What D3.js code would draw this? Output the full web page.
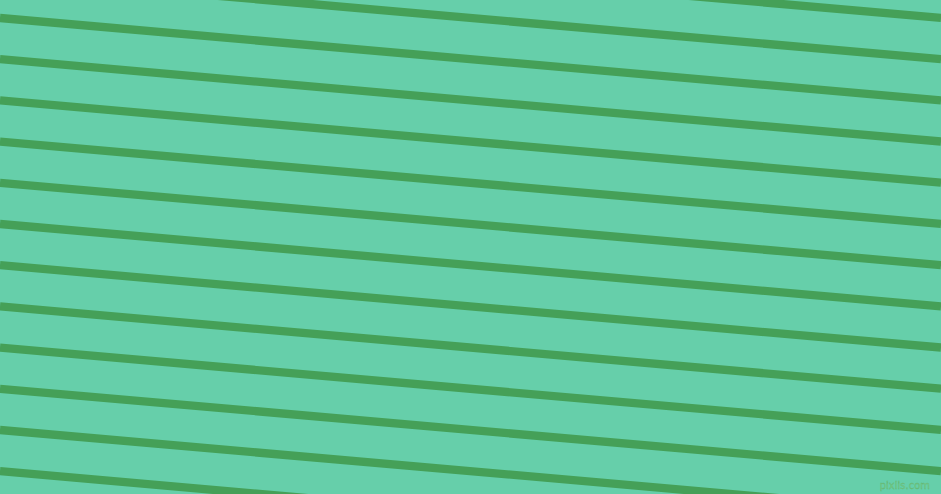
<!DOCTYPE html>
<html>
<head>
<meta charset="utf-8">
<script src="https://cdn.jsdelivr.net/npm/d3@7"></script>
<style>
  html, body { margin: 0; padding: 0; background: #66cfaa; overflow: hidden; }
  svg { display: block; }
</style>
</head>
<body>
<div id="chart"></div>
<script>
// stripe indices (0 = the stripe crossing the left edge near the top)
var stripeIndex = [-2, -1, 0, 1, 2, 3, 4, 5, 6, 7, 8, 9, 10, 11];
// where stripe 0 and stripe 11 cross the left edge
var leftEdgeY = [18, 471.2];
var indexRange = [0, 11];
// angle of the stripes, degrees (falling to the right)
var tiltDeg = 5;
var watermark = ["pixlis.com"];

var width = 941, height = 494;

var svg = d3.select("#chart")
  .append("svg")
    .attr("width", width)
    .attr("height", height);

svg.append("rect")
  .attr("width", width)
  .attr("height", height)
  .attr("fill", "#66cfaa");

var x = d3.scaleLinear().domain([0, 1]).range([0, width]);
var y = d3.scaleLinear().domain(indexRange).range(leftEdgeY);
var drop = Math.tan(tiltDeg * Math.PI / 180) * width;

var line = d3.line()
  .x(function(d) { return x(d[0]); })
  .y(function(d) { return d[1]; });

svg.selectAll("path.stripe")
  .data(stripeIndex)
  .enter()
  .append("path")
    .attr("class", "stripe")
    .attr("d", function(i) {
      var y0 = y(i);
      return line([[0, y0], [1, y0 + drop]]);
    })
    .attr("fill", "none")
    .attr("stroke", "#45a058")
    .attr("stroke-width", 8.3);

// small watermark, bottom right
svg.selectAll("text.mark")
  .data(watermark)
  .enter()
  .append("text")
    .attr("class", "mark")
    .attr("x", 930)
    .attr("y", 489)
    .attr("text-anchor", "end")
    .attr("font-family", "DejaVu Sans, sans-serif")
    .attr("font-size", 10)
    .attr("fill", "#7ccf8e")
    .attr("stroke", "#5cb06c")
    .attr("stroke-width", 0.3)
    .text(function(d) { return d; });
</script>
</body>
</html>
